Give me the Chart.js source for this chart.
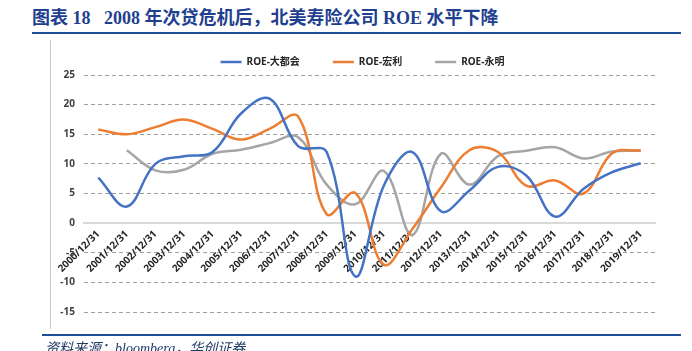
<!DOCTYPE html>
<html>
<head>
<meta charset="utf-8">
<script src="https://cdn.jsdelivr.net/npm/chart.js@4.4.0/dist/chart.umd.min.js"></script>
<style>
  html, body { margin: 0; padding: 0; width: 692px; height: 351px; overflow: hidden; background: #ffffff; }
  #wrap { position: relative; width: 692px; height: 351px; overflow: hidden; }
  #chart { position: absolute; left: 0; top: 0; }
  .title { position: absolute; left: 32px; top: 8px; font-family: "Liberation Serif", "Noto Sans CJK SC", serif; font-weight: bold; font-size: 18px; line-height: 20px; color: #1f3f8f; white-space: pre; }
  .rule { position: absolute; background: #1f4e96; }
  .frame { position: absolute; left: 50px; top: 40px; width: 1px; height: 289px; background: #c8c8c8; }
  .source { position: absolute; left: 45px; top: 341px; font-family: "Liberation Serif", "Noto Sans CJK SC", serif; font-style: italic; font-size: 14px; line-height: 16px; color: #1f3864; white-space: pre; }
</style>
</head>
<body>
<div id="wrap">
  <div class="title">图表 18   2008 年次贷危机后，北美寿险公司 ROE 水平下降</div>
  <div class="rule" style="left:32px; top:32px; width:649px; height:2px;"></div>
  <div class="frame"></div>
  <canvas id="chart" width="692" height="351"></canvas>
  <div class="rule" style="left:42px; top:334px; width:639px; height:2px;"></div>
  <div class="source">资料来源：bloomberg，华创证券</div>
</div>
<script>
// ---- data ----
const categories = ['2000/12/31','2001/12/31','2002/12/31','2003/12/31','2004/12/31','2005/12/31','2006/12/31','2007/12/31','2008/12/31','2009/12/31','2010/12/31','2011/12/31','2012/12/31','2013/12/31','2014/12/31','2015/12/31','2016/12/31','2017/12/31','2018/12/31','2019/12/31'];
const seriesNames = ['ROE-大都会', 'ROE-宏利', 'ROE-永明'];
const roeMetLife  = [7.7, 2.8, 10.0, 11.3, 12.0, 18.5, 21.0, 13.0, 12.0, -9.0, 6.3, 12.0, 2.0, 5.5, 9.5, 8.0, 1.1, 5.8, 8.6, 10.1];
const roeManulife = [15.8, 15.0, 16.2, 17.5, 15.9, 14.1, 15.9, 18.0, 1.5, 5.1, -7.0, -1.0, 6.0, 12.3, 12.0, 6.3, 7.2, 5.0, 11.8, 12.3];
const roeSunLife  = [null, 12.3, 8.9, 9.0, 11.7, 12.4, 13.5, 14.5, 6.5, 3.2, 8.8, -2.0, 11.7, 6.5, 11.3, 12.2, 12.8, 10.9, 12.1, 12.2];
const yMin = -15, yMax = 25, yStep = 5;

const FONT = '"Noto Sans", "Noto Sans CJK SC", sans-serif';

const legendPatch = {
  id: 'legendPatch',
  beforeLayout(chart) {
    const lg = chart.legend;
    if (lg && !lg._patched) {
      const orig = lg.fit.bind(lg);
      lg.fit = function () { orig(); this.height -= 2; };
      lg._patched = true;
    }
  },
  afterLayout(chart) {
    const lg = chart.legend;
    if (lg) { lg.left += 15; lg.right += 15; }
  }
};

function ds(label, data, color) {
  return {
    label, data,
    borderColor: color, backgroundColor: color,
    borderWidth: 2.5, pointRadius: 0, pointHoverRadius: 0,
    tension: 0.38, fill: false, spanGaps: false
  };
}

new Chart(document.getElementById('chart'), {
  type: 'line',
  data: {
    labels: categories,
    datasets: [
      ds(seriesNames[0], roeMetLife, '#4472c4'),
      ds(seriesNames[1], roeManulife, '#ed7d31'),
      ds(seriesNames[2], roeSunLife, '#a5a5a5')
    ]
  },
  options: {
    responsive: false,
    animation: false,
    events: [],
    layout: { padding: { left: 40, right: 37, top: 24, bottom: 39 } },
    plugins: {
      tooltip: { enabled: false },
      title: { display: false },
      legend: {
        display: true,
        position: 'top',
        align: 'center',
        labels: {
          usePointStyle: true,
          pointStyle: 'line',
          pointStyleWidth: 21,
          boxWidth: 21,
          padding: 33,
          color: '#262626',
          font: { family: FONT, size: 10, weight: 'bold' }
        }
      }
    },
    scales: {
      x: {
        type: 'category',
        offset: true,
        position: { y: 0 },
        grid: { display: true, drawOnChartArea: false, drawTicks: false },
        border: { display: true, color: '#d9d9d9', width: 2 },
        ticks: {
          autoSkip: false, maxRotation: 45, minRotation: 45, padding: 5,
          color: '#262626',
          font: { family: FONT, size: 10, weight: 'bold' }
        }
      },
      y: {
        min: yMin, max: yMax,
        afterFit(scale) { scale.width = 44; },
        grid: {
          drawTicks: false,
          lineWidth: 1,
          color: (c) => (c.tick && c.tick.value === 0) ? 'rgba(0,0,0,0)' : '#a0a0a0'
        },
        border: { display: false, dash: [4, 3] },
        ticks: {
          stepSize: yStep, padding: 9,
          color: '#404040',
          font: { family: FONT, size: 10, weight: 'bold' }
        }
      }
    }
  },
  plugins: [legendPatch]
});
</script>
</body>
</html>
